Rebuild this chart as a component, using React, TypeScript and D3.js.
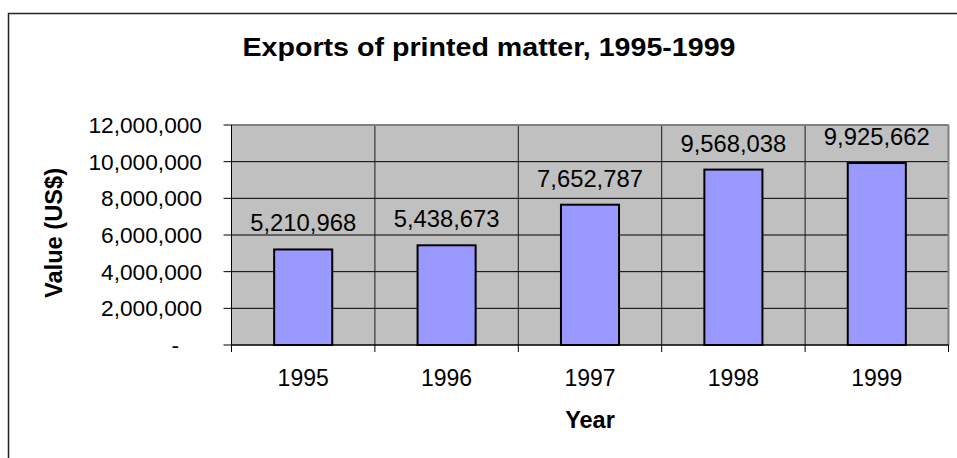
import React from "react";
import * as d3 from "d3";

const years = ["1995", "1996", "1997", "1998", "1999"];
const values = [5210968, 5438673, 7652787, 9568038, 9925662];
const yTicks = [0, 2000000, 4000000, 6000000, 8000000, 10000000, 12000000];
const title = "Exports of printed matter, 1995-1999";
const xTitle = "Year";
const yTitle = "Value (US$)";

const W = 957;
const H = 458;
const plot = { left: 231.5, right: 948.5, top: 125, bottom: 345 };
const font = "'Liberation Sans', Arial, sans-serif";

export default function App() {
  const x = d3.scaleBand<string>().domain(years).range([plot.left, plot.right]).padding(0);
  const y = d3.scaleLinear().domain([0, 12000000]).range([plot.bottom, plot.top]);
  const fmt = d3.format(",");
  const barW = x.bandwidth() * 0.405;
  const boundaries = [...years.map((c) => x(c) as number), plot.right];

  return (
    <svg width={W} height={H} style={{ position: "absolute", left: 0, top: 0, background: "#fff" }}>
      <rect x={8.5} y={13.5} width={W + 10} height={H + 10} fill="#fff" stroke="#222" strokeWidth={1.5} />
      <text
        x={489}
        y={56}
        textAnchor="middle"
        fontFamily={font}
        fontWeight="bold"
        fontSize={25}
        fill="#000"
        textLength={493}
        lengthAdjust="spacingAndGlyphs"
      >
        {title}
      </text>
      {/* plot background */}
      <rect x={plot.left} y={plot.top} width={plot.right - plot.left} height={plot.bottom - plot.top} fill="#C0C0C0" />
      {/* horizontal gridlines */}
      {yTicks.slice(1).map((t) => (
        <line key={"g" + t} x1={plot.left} x2={plot.right} y1={y(t)} y2={y(t)} stroke="#000" strokeWidth={1} />
      ))}
      {/* vertical gridlines */}
      {boundaries.slice(1, -1).map((b, i) => (
        <line key={"v" + i} x1={b} x2={b} y1={plot.top} y2={plot.bottom} stroke="#1a1a1a" strokeWidth={1} />
      ))}
      {/* plot border top/right */}
      <line x1={plot.left} x2={plot.right} y1={plot.top} y2={plot.top} stroke="#808080" strokeWidth={2} />
      <line x1={plot.right} x2={plot.right} y1={plot.top} y2={plot.bottom} stroke="#808080" strokeWidth={2} />
      {/* bars */}
      {years.map((c, i) => {
        const cx = (x(c) as number) + x.bandwidth() / 2;
        return (
          <g key={c}>
            <rect
              x={cx - barW / 2}
              y={y(values[i])}
              width={barW}
              height={plot.bottom - y(values[i])}
              fill="#9999FF"
              stroke="#000"
              strokeWidth={2}
            />
            <text x={cx} y={y(values[i]) - 18} textAnchor="middle" fontFamily={font} fontSize={23.8} fill="#000">
              {fmt(values[i])}
            </text>
            <text x={cx} y={386} textAnchor="middle" fontFamily={font} fontSize={23} fill="#000">
              {c}
            </text>
          </g>
        );
      })}
      {/* axes */}
      <line x1={plot.left} x2={plot.left} y1={plot.top} y2={plot.bottom} stroke="#000" strokeWidth={1} />
      <line x1={plot.left} x2={plot.right} y1={plot.bottom} y2={plot.bottom} stroke="#000" strokeWidth={1.5} />
      {yTicks.map((t) => (
        <g key={"t" + t}>
          <line x1={plot.left - 8} x2={plot.left} y1={y(t)} y2={y(t)} stroke="#000" strokeWidth={1} />
          <text
            x={t === 0 ? 179 : 202}
            y={y(t) + 8}
            textAnchor="end"
            fontFamily={font}
            fontSize={22.7}
            fill="#000"
          >
            {t === 0 ? "-" : fmt(t)}
          </text>
        </g>
      ))}
      {boundaries.map((b, i) => (
        <line key={"xt" + i} x1={b} x2={b} y1={plot.bottom} y2={plot.bottom + 7} stroke="#000" strokeWidth={1} />
      ))}
      <text x={(plot.left + plot.right) / 2} y={428} textAnchor="middle" fontFamily={font} fontWeight="bold" fontSize={23.5} fill="#000">
        {xTitle}
      </text>
      <text
        transform={`translate(62,233) rotate(-90)`}
        textAnchor="middle"
        fontFamily={font}
        fontWeight="bold"
        fontSize={24}
        fill="#000"
        textLength={130}
        lengthAdjust="spacingAndGlyphs"
      >
        {yTitle}
      </text>
    </svg>
  );
}
